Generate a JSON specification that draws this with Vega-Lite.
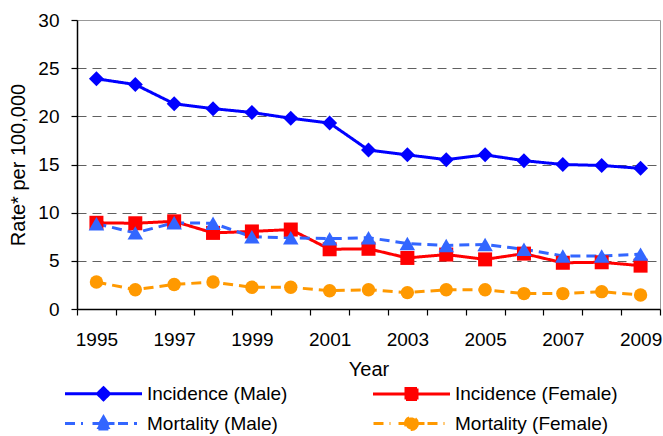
{
  "$schema": "https://vega.github.io/schema/vega-lite/v6.json",
  "width": 583,
  "height": 289,
  "autosize": "none",
  "padding": {"left": 77, "top": 20, "right": 3, "bottom": 127},
  "data": {
    "values": [
      {"year": 1995, "series": "Incidence (Male)", "rate": 23.9},
      {"year": 1996, "series": "Incidence (Male)", "rate": 23.3},
      {"year": 1997, "series": "Incidence (Male)", "rate": 21.3},
      {"year": 1998, "series": "Incidence (Male)", "rate": 20.8},
      {"year": 1999, "series": "Incidence (Male)", "rate": 20.4},
      {"year": 2000, "series": "Incidence (Male)", "rate": 19.8},
      {"year": 2001, "series": "Incidence (Male)", "rate": 19.3},
      {"year": 2002, "series": "Incidence (Male)", "rate": 16.5},
      {"year": 2003, "series": "Incidence (Male)", "rate": 16.0},
      {"year": 2004, "series": "Incidence (Male)", "rate": 15.5},
      {"year": 2005, "series": "Incidence (Male)", "rate": 16.0},
      {"year": 2006, "series": "Incidence (Male)", "rate": 15.4},
      {"year": 2007, "series": "Incidence (Male)", "rate": 15.0},
      {"year": 2008, "series": "Incidence (Male)", "rate": 14.9},
      {"year": 2009, "series": "Incidence (Male)", "rate": 14.6},
      {"year": 1995, "series": "Incidence (Female)", "rate": 8.95},
      {"year": 1996, "series": "Incidence (Female)", "rate": 8.9},
      {"year": 1997, "series": "Incidence (Female)", "rate": 9.1},
      {"year": 1998, "series": "Incidence (Female)", "rate": 7.9},
      {"year": 1999, "series": "Incidence (Female)", "rate": 8.05},
      {"year": 2000, "series": "Incidence (Female)", "rate": 8.25},
      {"year": 2001, "series": "Incidence (Female)", "rate": 6.2},
      {"year": 2002, "series": "Incidence (Female)", "rate": 6.25},
      {"year": 2003, "series": "Incidence (Female)", "rate": 5.3},
      {"year": 2004, "series": "Incidence (Female)", "rate": 5.65},
      {"year": 2005, "series": "Incidence (Female)", "rate": 5.15},
      {"year": 2006, "series": "Incidence (Female)", "rate": 5.75},
      {"year": 2007, "series": "Incidence (Female)", "rate": 4.8},
      {"year": 2008, "series": "Incidence (Female)", "rate": 4.85},
      {"year": 2009, "series": "Incidence (Female)", "rate": 4.5},
      {"year": 1995, "series": "Mortality (Male)", "rate": 8.85},
      {"year": 1996, "series": "Mortality (Male)", "rate": 7.9},
      {"year": 1997, "series": "Mortality (Male)", "rate": 8.95},
      {"year": 1998, "series": "Mortality (Male)", "rate": 8.9},
      {"year": 1999, "series": "Mortality (Male)", "rate": 7.5},
      {"year": 2000, "series": "Mortality (Male)", "rate": 7.4},
      {"year": 2001, "series": "Mortality (Male)", "rate": 7.3},
      {"year": 2002, "series": "Mortality (Male)", "rate": 7.4},
      {"year": 2003, "series": "Mortality (Male)", "rate": 6.8},
      {"year": 2004, "series": "Mortality (Male)", "rate": 6.6},
      {"year": 2005, "series": "Mortality (Male)", "rate": 6.7},
      {"year": 2006, "series": "Mortality (Male)", "rate": 6.2},
      {"year": 2007, "series": "Mortality (Male)", "rate": 5.5},
      {"year": 2008, "series": "Mortality (Male)", "rate": 5.5},
      {"year": 2009, "series": "Mortality (Male)", "rate": 5.7},
      {"year": 1995, "series": "Mortality (Female)", "rate": 2.8},
      {"year": 1996, "series": "Mortality (Female)", "rate": 2.0},
      {"year": 1997, "series": "Mortality (Female)", "rate": 2.55},
      {"year": 1998, "series": "Mortality (Female)", "rate": 2.8},
      {"year": 1999, "series": "Mortality (Female)", "rate": 2.25},
      {"year": 2000, "series": "Mortality (Female)", "rate": 2.25},
      {"year": 2001, "series": "Mortality (Female)", "rate": 1.9},
      {"year": 2002, "series": "Mortality (Female)", "rate": 2.0},
      {"year": 2003, "series": "Mortality (Female)", "rate": 1.7},
      {"year": 2004, "series": "Mortality (Female)", "rate": 2.0},
      {"year": 2005, "series": "Mortality (Female)", "rate": 2.0},
      {"year": 2006, "series": "Mortality (Female)", "rate": 1.6},
      {"year": 2007, "series": "Mortality (Female)", "rate": 1.6},
      {"year": 2008, "series": "Mortality (Female)", "rate": 1.8},
      {"year": 2009, "series": "Mortality (Female)", "rate": 1.45}
    ]
  },
  "encoding": {
    "x": {
      "field": "year",
      "type": "ordinal",
      "title": "Year",
      "bandPosition": 0.5,
      "scale": {"type": "band", "paddingInner": 0, "paddingOuter": 0},
      "axis": {
        "tickBand": "extent",
        "labelExpr": "datum.value % 2 == 1 ? datum.label : ''",
        "labelAngle": 0,
        "labelOverlap": false,
        "tickSize": 6,
        "labelPadding": 15,
        "titlePadding": 10,
        "grid": false
      }
    },
    "y": {
      "field": "rate",
      "type": "quantitative",
      "title": "Rate* per 100,000",
      "scale": {"domain": [0, 30], "nice": false, "zero": true},
      "axis": {
        "values": [0, 5, 10, 15, 20, 25, 30],
        "tickSize": 6,
        "labelPadding": 12,
        "titlePadding": 9,
        "grid": true,
        "gridColor": "#606060",
        "gridDash": [9, 6],
        "gridWidth": 1,
        "gridOpacity": {"condition": {"test": "datum.value == 0 || datum.value == 30", "value": 0}, "value": 1}
      }
    },
    "color": {
      "field": "series",
      "type": "nominal",
      "scale": {
        "domain": ["Incidence (Male)", "Incidence (Female)", "Mortality (Male)", "Mortality (Female)"],
        "range": ["#0000FF", "#FF0000", "#3366FF", "#FF9900"]
      },
      "legend": {
        "orient": "none",
        "legendX": -12,
        "legendY": 362,
        "columns": 2,
        "direction": "horizontal",
        "title": null,
        "padding": 0,
        "symbolSize": 400,
        "symbolStrokeWidth": 3,
        "symbolOpacity": 1,
        "symbolOffset": 27,
        "labelOffset": 32,
        "labelFontSize": 19,
        "labelColor": "#000000",
        "labelFont": "Liberation Sans",
        "rowPadding": 5,
        "columnPadding": 79,
        "labelLimit": 400
      }
    }
  },
  "layer": [
    {
      "mark": {"type": "line", "strokeWidth": 3},
      "encoding": {
        "strokeDash": {
          "field": "series",
          "type": "nominal",
          "scale": {
            "domain": ["Incidence (Male)", "Incidence (Female)", "Mortality (Male)", "Mortality (Female)"],
            "range": [[1, 0], [1, 0], [10, 6], [10, 6]]
          },
          "legend": null
        }
      }
    },
    {
      "transform": [{"filter": "datum.series == 'Incidence (Male)'"}],
      "mark": {"type": "point", "filled": true, "opacity": 1, "size": 225, "shape": "diamond"}
    },
    {
      "transform": [{"filter": "datum.series == 'Incidence (Female)'"}],
      "mark": {"type": "point", "filled": true, "opacity": 1, "size": 196, "shape": "square"}
    },
    {
      "transform": [{"filter": "datum.series == 'Mortality (Male)'"}],
      "mark": {"type": "point", "filled": true, "opacity": 1, "size": 240, "shape": "triangle-up"}
    },
    {
      "transform": [{"filter": "datum.series == 'Mortality (Female)'"}],
      "mark": {"type": "point", "filled": true, "opacity": 1, "size": 180, "shape": "circle"}
    },
    {
      "mark": {"type": "point", "filled": true, "opacity": 1, "size": 0},
      "encoding": {
        "shape": {
          "field": "series",
          "type": "nominal",
          "scale": {
            "domain": ["Incidence (Male)", "Incidence (Female)", "Mortality (Male)", "Mortality (Female)"],
            "range": [
              "M-3.85,0L3.85,0M-0.6,0L0,-0.6L0.6,0L0,0.6Z",
              "M-3.85,0L3.85,0M-0.55,-0.55L0.55,-0.55L0.55,0.55L-0.55,0.55Z",
              "M-3.85,0L-2.05,0M-1.1,0L1.1,0M1.45,0L3.35,0M0,-0.65L0.7,0.55L-0.7,0.55Z",
              "M-3.8,0L-2.1,0M-1.3,0L1.3,0M1.6,0L3.3,0M0.6,0A0.6,0.6,0,1,1,-0.6,0A0.6,0.6,0,1,1,0.6,0Z"
            ]
          },
          "legend": {
            "orient": "none",
            "legendX": -12,
            "legendY": 362,
            "columns": 2,
            "direction": "horizontal",
            "title": null,
            "padding": 0,
            "symbolSize": 400,
            "symbolStrokeWidth": 3,
            "symbolOpacity": 1,
            "symbolOffset": 27,
            "labelOffset": 32,
            "labelFontSize": 19,
            "labelColor": "#000000",
            "labelFont": "Liberation Sans",
            "rowPadding": 5,
            "columnPadding": 79,
            "labelLimit": 400
          }
        }
      }
    }
  ],
  "config": {
    "font": "Liberation Sans",
    "view": {"stroke": "#999999", "strokeWidth": 1},
    "axis": {
      "domainColor": "#000000",
      "domainWidth": 1.5,
      "tickColor": "#000000",
      "tickWidth": 1.2,
      "labelColor": "#000000",
      "labelFontSize": 19,
      "labelFont": "Liberation Sans",
      "titleColor": "#000000",
      "titleFontSize": 20,
      "titleFontWeight": "normal",
      "titleFont": "Liberation Sans"
    }
  }
}
